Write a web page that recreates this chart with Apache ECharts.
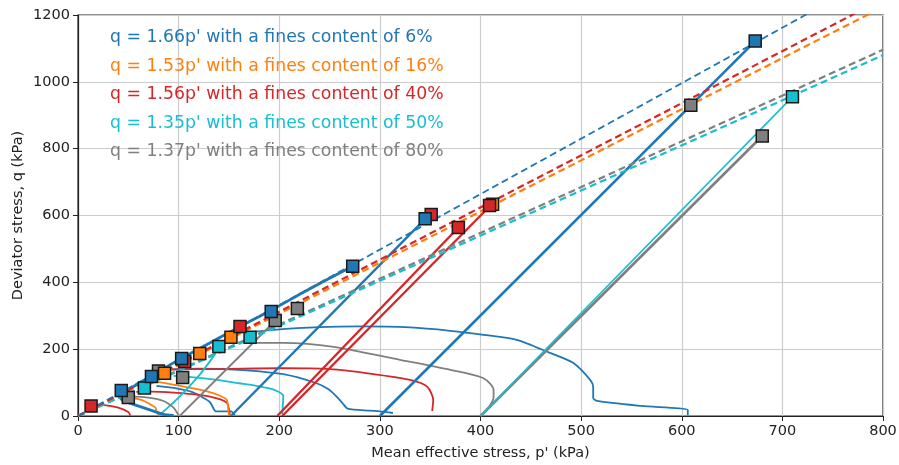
<!DOCTYPE html>
<html>
<head>
<meta charset="utf-8">
<title>Stress paths and critical state lines</title>
<script src="https://cdn.jsdelivr.net/npm/echarts@6/dist/echarts.min.js"></script>
<style>
  html, body { margin: 0; padding: 0; background: #fff; }
  #chart { width: 899px; height: 465px; }
</style>
</head>
<body>
<div id="chart"></div>
<script>
// Critical state line slopes (q = M p') for each fines content
const finesContents = ['6%', '16%', '40%', '50%', '80%'];
const csSlopes = [1.66, 1.53, 1.56, 1.35, 1.37];
const seriesColors = ['#1f77b4', '#ff7f0e', '#d62728', '#17becf', '#7f7f7f'];

// Drained paths [p', q] (kPa)
const blueDrainedA = [[300, 0], [673, 1122]];
const blueDrainedB = [[152, 0], [345, 590]];
const redDrainedA = [[198, 0], [378, 564]];
const redDrainedB = [[203, 0], [409, 627]];
const cyanDrained = [[400, 0], [710, 955]];
const grayDrainedA = [[400, 0], [680, 838]];
const grayDrainedB = [[101, 0], [196, 285]];

// Undrained paths [p', q] (kPa)
const blueUndrainedA = [[606, 3], [606, 18], [560, 30], [516, 45], [512, 54], [512, 87], [509, 108], [492, 159], [469, 189], [436, 228], [403, 243], [370, 255], [330, 265], [280, 268], [240, 266], [194, 258], [168, 250]];
const blueUndrainedB = [[313, 9], [300, 14], [290, 16], [268, 22], [263, 38], [257, 58], [249, 80], [237, 98], [204, 125], [160, 138], [120, 142], [90, 140]];
const blueUndrainedC = [[156, 3], [152, 14], [137, 14], [131, 42], [113, 72], [95, 84], [78, 90]];
const blueUndrainedD = [[95, 2], [85, 5], [70, 20], [55, 35], [45, 45], [42, 55], [50, 78], [70, 115], [100, 168], [130, 217], [160, 266], [193, 318], [225, 372], [250, 412], [273, 448]];
const redUndrainedA = [[352, 15], [353, 48], [347, 88], [330, 108], [290, 127], [250, 140], [204, 143], [150, 141], [110, 140], [88, 138]];
const redUndrainedB = [[151, 3], [150, 20], [148, 40], [138, 53], [121, 63], [95, 70], [72, 73], [58, 72]];
const redUndrainedC = [[52, 2], [50, 12], [40, 25], [28, 32], [18, 33], [13, 30]];
const orangeUndrainedA = [[150, 2], [149, 28], [148, 48], [140, 62], [129, 73], [110, 85], [96, 93], [77, 103], [70, 106]];
const orangeUndrainedB = [[80, 2], [78, 12], [77, 25], [70, 38], [63, 48], [47, 58]];
const cyanUndrainedA = [[203, 5], [204, 60], [195, 78], [181, 88], [160, 98], [138, 108], [110, 117], [95, 120]];
const cyanUndrainedB = [[80, 0], [100, 55], [120, 120], [135, 180], [141, 208]];
const grayUndrainedA = [[401, 2], [408, 25], [413, 55], [413, 78], [403, 113], [370, 138], [320, 168], [254, 207], [204, 219], [169, 219]];
const grayUndrainedB = [[100, 2], [95, 25], [85, 45], [70, 55], [55, 58], [47, 55]];

// Failure points [p', q] (kPa)
const blueFailure = [[673, 1122], [345, 590], [273, 448], [192, 313], [103, 172], [73, 118], [43, 76]];
const redFailure = [[351, 603], [378, 564], [409, 630], [161, 268], [106, 163], [13, 30]];
const orangeFailure = [[412, 634], [152, 236], [121, 187], [86, 128]];
const cyanFailure = [[710, 955], [171, 236], [140, 208], [66, 84]];
const grayFailure = [[609, 930], [680, 838], [218, 322], [196, 286], [104, 115], [80, 135], [50, 55]];

const xMax = 800;
const [BLUE, ORANGE, RED, CYAN, GRAY] = seriesColors;

function path(data, color, width, smooth) {
  return {
    type: 'line', data: data, showSymbol: false, symbol: 'none',
    smooth: smooth || false,
    lineStyle: { color: color, width: width }, z: 3, silent: true, clip: true
  };
}
function csl(slope, color, width) {
  return {
    type: 'line', data: [[0, 0], [xMax, slope * xMax]], showSymbol: false, symbol: 'none',
    lineStyle: { color: color, width: width, type: [7, 4] }, z: 4, silent: true, clip: true
  };
}
function points(data, color) {
  return {
    type: 'scatter', data: data, symbol: 'rect', symbolSize: 12,
    itemStyle: { color: color, borderColor: '#1a1a1a', borderWidth: 1.5, opacity: 1 },
    z: 6, silent: true
  };
}

const series = [
  path(blueUndrainedA, BLUE, 1.8, 0.25),
  path(blueUndrainedB, BLUE, 1.8, 0.25),
  path(blueUndrainedC, BLUE, 1.8, 0.2),
  path(redUndrainedA, RED, 1.8, 0.25),
  path(redUndrainedB, RED, 1.8, 0.25),
  path(redUndrainedC, RED, 1.8, 0.2),
  path(orangeUndrainedA, ORANGE, 1.8, 0.25),
  path(orangeUndrainedB, ORANGE, 1.8, 0.2),
  path(cyanUndrainedA, CYAN, 1.8, 0.25),
  path(cyanUndrainedB, CYAN, 1.8, 0.2),
  path(grayUndrainedA, GRAY, 1.8, 0.25),
  path(grayUndrainedB, GRAY, 1.8, 0.2),
  path(blueUndrainedD, BLUE, 2.8, 0.2),
  path(grayDrainedA, GRAY, 2.6),
  path(cyanDrained, CYAN, 1.6),
  path(grayDrainedB, GRAY, 1.8),
  path(redDrainedA, RED, 2.4),
  path(redDrainedB, RED, 2.4),
  path(blueDrainedB, BLUE, 2.4),
  path(blueDrainedA, BLUE, 2.6),
  csl(csSlopes[4], GRAY, 2.2),
  csl(csSlopes[3], CYAN, 2.2),
  csl(csSlopes[1], ORANGE, 2.2),
  csl(csSlopes[2], RED, 2.2),
  csl(csSlopes[0], BLUE, 1.8),
  points(grayFailure, GRAY),
  points(cyanFailure, CYAN),
  points(orangeFailure, ORANGE),
  points(redFailure, RED),
  points(blueFailure, BLUE)
];

// Text key: one coloured line per fines content
const keyTexts = csSlopes.map((m, i) => ({
  type: 'text',
  x: 110, y: 38 + i * 28.5,
  z: 10,
  style: {
    text: 'q = ' + m.toFixed(2) + "p' with a fines content of " + finesContents[i],
    fill: seriesColors[i],
    fontFamily: 'DejaVu Sans', fontSize: 17.3,
    verticalAlign: 'middle', align: 'left'
  }
}));

const axisFont = { fontFamily: 'DejaVu Sans', fontSize: 14.5, color: '#222' };

const chart = echarts.init(document.getElementById('chart'), null, { renderer: 'canvas' });
chart.setOption({
  animation: false,
  backgroundColor: '#fff',
  grid: {
    left: 78, right: 16, top: 15, bottom: 49, containLabel: false,
    outerBoundsMode: 'none',
    show: true, borderColor: '#222', borderWidth: 1.2
  },
  xAxis: {
    type: 'value', min: 0, max: xMax, interval: 100,
    name: "Mean effective stress, p' (kPa)", nameLocation: 'middle', nameGap: 30,
    nameMoveOverlap: false,
    nameTextStyle: axisFont,
    axisLine: { show: true, onZero: false, lineStyle: { color: '#222', width: 1.2 } },
    axisTick: { show: true, length: 5, lineStyle: { color: '#222' } },
    axisLabel: Object.assign({ margin: 8, formatter: v => String(v) }, axisFont),
    splitLine: { show: true, lineStyle: { color: '#cccccc', width: 1.2 } }
  },
  yAxis: {
    type: 'value', min: 0, max: 1200, interval: 200,
    name: 'Deviator stress, q (kPa)', nameLocation: 'middle', nameGap: 52,
    nameMoveOverlap: false,
    nameTextStyle: axisFont,
    axisLine: { show: true, onZero: false, lineStyle: { color: '#222', width: 1.2 } },
    axisTick: { show: true, length: 5, lineStyle: { color: '#222' } },
    axisLabel: Object.assign({ margin: 8, formatter: v => String(v) }, axisFont),
    splitLine: { show: true, lineStyle: { color: '#cccccc', width: 1.2 } }
  },
  graphic: keyTexts,
  series: series
});
</script>
</body>
</html>
